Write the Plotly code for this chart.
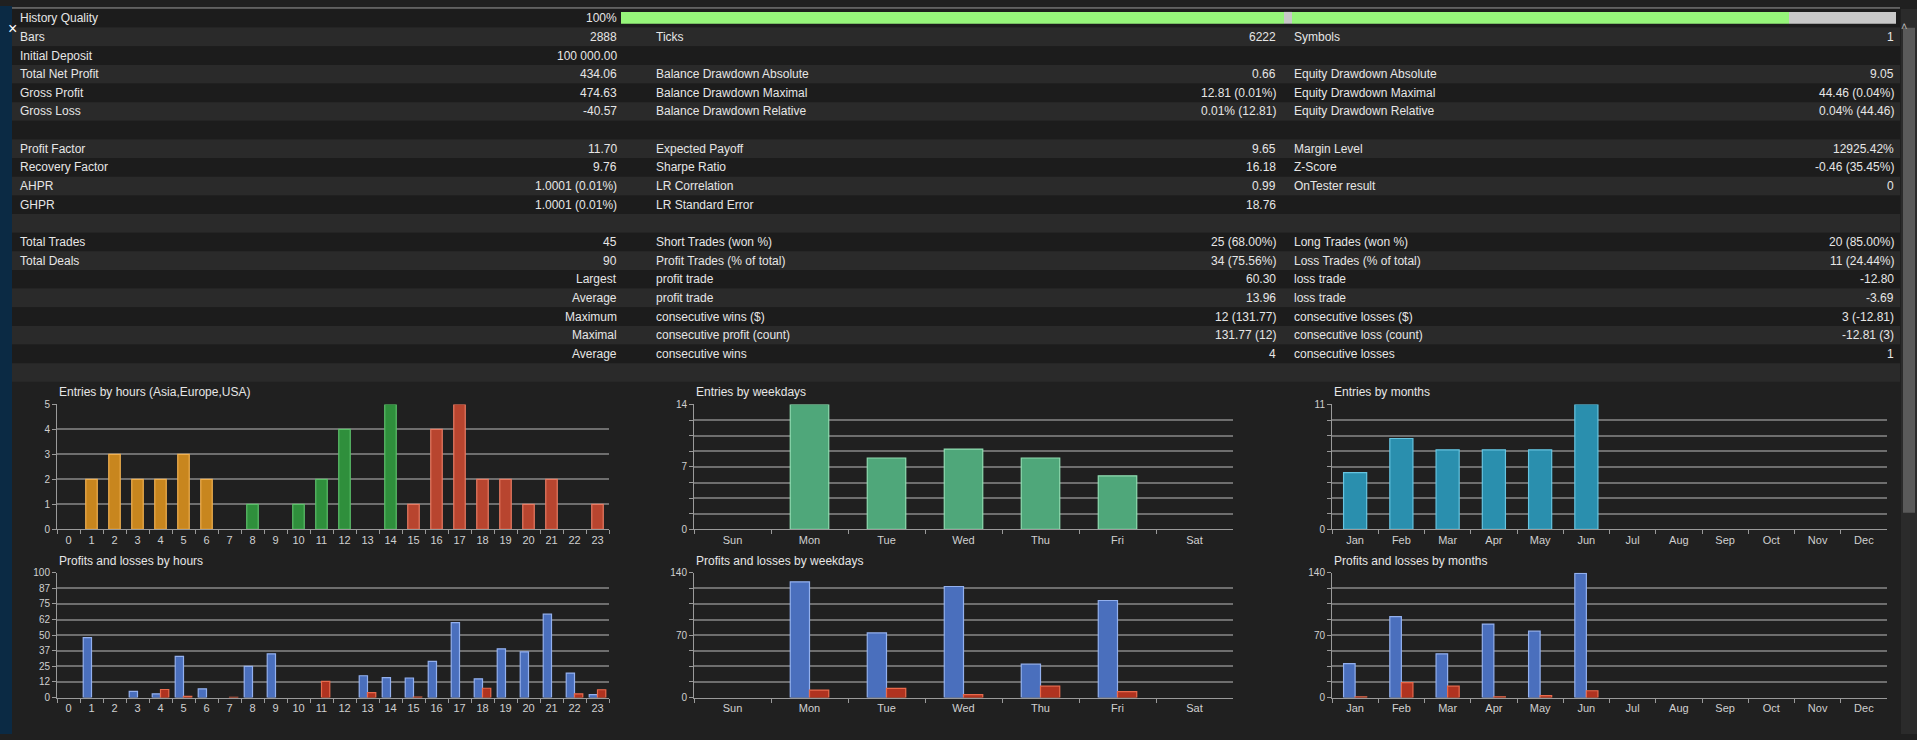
import plotly.graph_objects as go

W, H = 1917, 740

# ---- report table ----
col1_labels = ["History Quality", "Bars", "Initial Deposit", "Total Net Profit", "Gross Profit", "Gross Loss", "",
               "Profit Factor", "Recovery Factor", "AHPR", "GHPR", "",
               "Total Trades", "Total Deals", "", "", "", "", "", ""]
col1_values = ["100%", "2888", "100 000.00", "434.06", "474.63", "-40.57", "",
               "11.70", "9.76", "1.0001 (0.01%)", "1.0001 (0.01%)", "",
               "45", "90", "Largest", "Average", "Maximum", "Maximal", "Average", ""]
col2_labels = ["", "Ticks", "", "Balance Drawdown Absolute", "Balance Drawdown Maximal", "Balance Drawdown Relative", "",
               "Expected Payoff", "Sharpe Ratio", "LR Correlation", "LR Standard Error", "",
               "Short Trades (won %)", "Profit Trades (% of total)", "profit trade", "profit trade",
               "consecutive wins ($)", "consecutive profit (count)", "consecutive wins", ""]
col2_values = ["", "6222", "", "0.66", "12.81 (0.01%)", "0.01% (12.81)", "",
               "9.65", "16.18", "0.99", "18.76", "",
               "25 (68.00%)", "34 (75.56%)", "60.30", "13.96", "12 (131.77)", "131.77 (12)", "4", ""]
col3_labels = ["", "Symbols", "", "Equity Drawdown Absolute", "Equity Drawdown Maximal", "Equity Drawdown Relative", "",
               "Margin Level", "Z-Score", "OnTester result", "", "",
               "Long Trades (won %)", "Loss Trades (% of total)", "loss trade", "loss trade",
               "consecutive losses ($)", "consecutive loss (count)", "consecutive losses", ""]
col3_values = ["", "1", "", "9.05", "44.46 (0.04%)", "0.04% (44.46)", "",
               "12925.42%", "-0.46 (35.45%)", "0", "", "",
               "20 (85.00%)", "11 (24.44%)", "-12.80", "-3.69", "3 (-12.81)", "-12.81 (3)", "1", ""]

# ---- chart data ----
hours = [str(h) for h in range(24)]
entries_hours = [0, 2, 3, 2, 2, 3, 2, 0, 1, 0, 1, 2, 4, 0, 5, 1, 4, 5, 2, 2, 1, 2, 0, 1]
profit_hours = [0, 48, 0, 5, 3, 33, 7, 0, 25, 35, 0, 0, 0, 17.5, 16, 15.7, 29, 60, 15, 39, 36.6, 66.8, 19.6, 2.4]
loss_hours = [0, 0, 0, 0, 6.5, 1, 0, 0.3, 0, 0, 0, 13, 0, 4, 0, 0.5, 0, 0, 7.5, 0, 0, 0, 3, 6.3]

weekdays = ["Sun", "Mon", "Tue", "Wed", "Thu", "Fri", "Sat"]
entries_weekdays = [0, 14, 8, 9, 8, 6, 0]
profit_weekdays = [0, 129.7, 72.5, 124.5, 37.4, 108.8, 0]
loss_weekdays = [0, 8.4, 10.3, 3.3, 12.8, 6.6, 0]

months = ["Jan", "Feb", "Mar", "Apr", "May", "Jun", "Jul", "Aug", "Sep", "Oct", "Nov", "Dec"]
entries_months = [5, 8, 7, 7, 7, 11, 0, 0, 0, 0, 0, 0]
profit_months = [38, 90.8, 49, 82.4, 74.4, 139.2, 0, 0, 0, 0, 0, 0]
loss_months = [0.8, 16.8, 12.8, 0.9, 2.2, 7.7, 0, 0, 0, 0, 0, 0]

hour_colors = ["#c8861e"] * 8 + ["#2f8f3c"] * 7 + ["#b8452f"] * 9
hour_lines = ["#f0b050"] * 8 + ["#5cc06a"] * 7 + ["#e87a62"] * 9


def px(x):
    return x / W


def py(y):
    return 1 - y / H


def lw(vals):
    # no outline on empty bars
    return [1.2 if v > 0 else 0 for v in vals]


fig = go.Figure()
shapes = []
annotations = []
FONT = "Liberation Sans"

# backgrounds
shapes.append(dict(type="rect", xref="paper", yref="paper", x0=0, x1=px(12), y0=0, y1=1,
                   fillcolor="#0b2a44", line_width=0, layer="below"))
shapes.append(dict(type="line", xref="paper", yref="paper", x0=px(12), x1=px(1900), y0=py(2), y1=py(2),
                   line=dict(color="#9a9a9a", width=1)))
ROW_H = 18.95
for i in range(len(col1_labels)):
    top = 3 + ROW_H * i
    shapes.append(dict(type="rect", xref="paper", yref="paper", x0=px(12), x1=px(1900),
                       y0=py(top + ROW_H), y1=py(top),
                       fillcolor="#1c1c1c" if i % 2 == 0 else "#2a2a2a", line_width=0, layer="below"))
    yc = py(top + ROW_H / 2)
    for txt, x, anchor in [(col1_labels[i], 18, "left"), (col1_values[i], 619, "right"),
                           (col2_labels[i], 654, "left"), (col2_values[i], 1278, "right"),
                           (col3_labels[i], 1292, "left"), (col3_values[i], 1896, "right")]:
        if txt:
            annotations.append(dict(text=txt, x=px(x), y=yc, xref="paper", yref="paper", showarrow=False,
                                    xanchor=anchor, yanchor="middle",
                                    font=dict(color="#e6e6e6", size=12, family=FONT)))

# history quality bar
for x0, x1, c in [(621, 1284, "#96f57a"), (1284, 1292, "#c8c8c8"), (1292, 1789, "#96f57a"), (1789, 1896, "#c8c8c8")]:
    shapes.append(dict(type="rect", xref="paper", yref="paper", x0=px(x0), x1=px(x1), y0=py(18), y1=py(6),
                       fillcolor=c, line_width=0))
# scrollbar
shapes.append(dict(type="rect", xref="paper", yref="paper", x0=px(1901), x1=px(1917), y0=0, y1=py(3),
                   fillcolor="#2b2b2b", line_width=0, layer="below"))
shapes.append(dict(type="rect", xref="paper", yref="paper", x0=px(1903), x1=px(1915), y0=py(515), y1=py(22),
                   fillcolor="#5a5a5a", line_width=0))
annotations.append(dict(text="˄", x=px(1909), y=py(12), xref="paper", yref="paper", showarrow=False,
                        font=dict(color="#bbbbbb", size=11, family=FONT)))
annotations.append(dict(text="×", x=px(6), y=py(12), xref="paper", yref="paper", showarrow=False,
                        font=dict(color="#ffffff", size=16, family=FONT)))

# chart grid layout (pixels)
cols_px = [(57, 609), (694, 1233), (1332, 1887)]
rows_px = [(405, 532), (576, 703)]
titles = ["Entries by hours (Asia,Europe,USA)", "Entries by weekdays", "Entries by months",
          "Profits and losses by hours", "Profits and losses by weekdays", "Profits and losses by months"]

layout_axes = {}
for r, (yt, yb) in enumerate(rows_px):
    for c, (xl, xr) in enumerate(cols_px):
        n = r * 3 + c + 1
        layout_axes[f"xaxis{n}"] = dict(domain=[px(xl), px(xr)], anchor=f"y{n}", type="category",
                                        tickson="boundaries", ticks="outside", ticklen=4, tickcolor="#9a9a9a",
                                        showline=True, linecolor="#9a9a9a", showgrid=False,
                                        tickfont=dict(color="#d0d0d0", size=11, family=FONT), fixedrange=True)
        layout_axes[f"yaxis{n}"] = dict(domain=[py(yb), py(yt)], anchor=f"x{n}", ticks="outside", ticklen=4,
                                        tickcolor="#9a9a9a", showline=True, linecolor="#9a9a9a",
                                        gridcolor="#6e6e6e", gridwidth=1.5, zeroline=False,
                                        tickfont=dict(color="#d0d0d0", size=10, family=FONT), fixedrange=True)
        annotations.append(dict(text=titles[n - 1], x=px(xl), y=py(yt - 3), xref="paper", yref="paper",
                                showarrow=False, xanchor="left", yanchor="bottom",
                                font=dict(color="#e6e6e6", size=12, family=FONT)))


def yticks(top, labels):
    vals = [top * k / 8 for k in range(9)]
    return dict(range=[0, top], tickvals=vals, ticktext=labels)


layout_axes["yaxis1"].update(range=[0, 5], tickvals=[0, 1, 2, 3, 4, 5])
layout_axes["yaxis2"].update(yticks(14, ["0", "", "", "", "7", "", "", "", "14"]))
layout_axes["yaxis3"].update(yticks(11, ["0", "", "", "", "", "", "", "", "11"]))
layout_axes["yaxis4"].update(yticks(100, ["0", "12", "25", "37", "50", "62", "75", "87", "100"]))
layout_axes["yaxis5"].update(yticks(140, ["0", "", "", "", "70", "", "", "", "140"]))
layout_axes["yaxis6"].update(yticks(140, ["0", "", "", "", "70", "", "", "", "140"]))

fig.add_trace(go.Bar(x=hours, y=entries_hours, width=0.5, xaxis="x1", yaxis="y1",
                     marker=dict(color=hour_colors, line=dict(color=hour_lines, width=lw(entries_hours)))))
fig.add_trace(go.Bar(x=weekdays, y=entries_weekdays, width=0.5, xaxis="x2", yaxis="y2",
                     marker=dict(color="#4fa77a", line=dict(color="#8fdcb0", width=lw(entries_weekdays)))))
fig.add_trace(go.Bar(x=months, y=entries_months, width=0.5, xaxis="x3", yaxis="y3",
                     marker=dict(color="#2a8fae", line=dict(color="#66c4e0", width=lw(entries_months)))))

for n, cats, prof, loss, w in [(4, hours, profit_hours, loss_hours, 0.36),
                               (5, weekdays, profit_weekdays, loss_weekdays, 0.25),
                               (6, months, profit_months, loss_months, 0.25)]:
    fig.add_trace(go.Bar(x=cats, y=prof, width=w, offset=-w, xaxis=f"x{n}", yaxis=f"y{n}",
                         marker=dict(color="#4a6fbd", line=dict(color="#93b0ee", width=lw(prof)))))
    fig.add_trace(go.Bar(x=cats, y=loss, width=w, offset=0, xaxis=f"x{n}", yaxis=f"y{n}",
                         marker=dict(color="#b03320", line=dict(color="#e86a4c", width=lw(loss)))))

fig.update_layout(width=W, height=H, autosize=False, margin=dict(l=0, r=0, t=0, b=0),
                  paper_bgcolor="#202020", plot_bgcolor="#202020", showlegend=False,
                  barmode="overlay", shapes=shapes, annotations=annotations, **layout_axes)

fig.write_html("out.html", config={"displayModeBar": False},
               post_script="document.body.style.margin='0';document.body.style.background='#202020';")
